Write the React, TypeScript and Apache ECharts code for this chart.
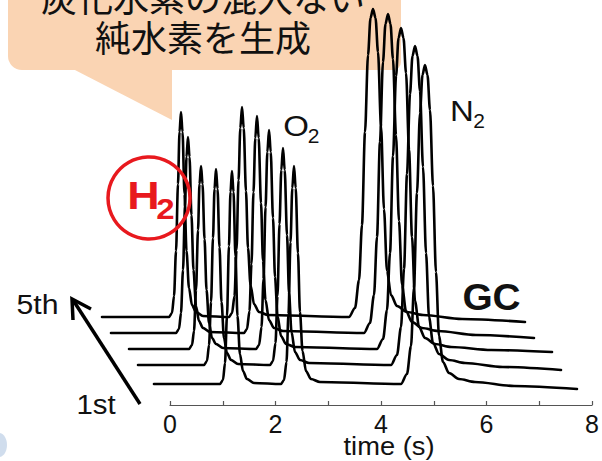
import React, { useEffect, useRef } from "react";
import * as echarts from "echarts";

// Five consecutive GC runs, each recorded from 0 to 8 s (time in s, detector signal in a.u.)
const RUN_NAMES = ["1st", "2nd", "3rd", "4th", "5th"];

const run1: [number, number][] = [
  [0, 0],
  [1.248, 0], [1.305, 4], [1.343, 21], [1.381, 68], [1.418, 138], [1.447, 192], [1.475, 213], [1.504, 192], [1.541, 128], [1.579, 68], [1.626, 30], [1.683, 13], [1.759, 5], [1.891, 1],
  [2.402, 0], [2.459, 4], [2.506, 22], [2.544, 70], [2.582, 142], [2.616, 196], [2.648, 218], [2.68, 196], [2.723, 131], [2.761, 72], [2.809, 33], [2.875, 13], [2.969, 5], [3.139, 2],
  [4.671, 0], [4.785, 10], [4.861, 38], [4.917, 96], [4.974, 191], [5.031, 271], [5.078, 309], [5.125, 319], [5.173, 309], [5.22, 274], [5.277, 198], [5.333, 112], [5.39, 48], [5.466, 22], [5.579, 11], [5.768, 5], [6.071, 2],
  [6.81, -2], [8.0, -5],
];

const run2: [number, number][] = [
  [0, 0],
  [1.248, 0], [1.305, 4], [1.343, 20], [1.381, 63], [1.418, 127], [1.447, 176], [1.475, 196], [1.504, 176], [1.541, 118], [1.579, 63], [1.626, 27], [1.683, 12], [1.759, 5], [1.891, 1],
  [2.496, 0], [2.553, 4], [2.6, 22], [2.638, 69], [2.676, 141], [2.71, 195], [2.742, 217], [2.774, 195], [2.818, 130], [2.856, 72], [2.903, 33], [2.969, 13], [3.064, 5], [3.234, 2],
  [4.785, 0], [4.898, 10], [4.974, 38], [5.031, 96], [5.087, 191], [5.144, 271], [5.191, 309], [5.239, 319], [5.286, 309], [5.333, 274], [5.39, 198], [5.447, 112], [5.504, 48], [5.579, 22], [5.693, 11], [5.882, 5], [6.184, 2],
  [6.9, -2], [8.0, -5],
];

const run3: [number, number][] = [
  [0, 0],
  [1.135, 0], [1.191, 4], [1.229, 18], [1.267, 59], [1.305, 119], [1.333, 165], [1.362, 183], [1.39, 165], [1.428, 110], [1.466, 59], [1.513, 26], [1.57, 11], [1.645, 5], [1.778, 1],
  [2.402, 0], [2.459, 4], [2.506, 22], [2.544, 70], [2.582, 142], [2.616, 197], [2.648, 219], [2.68, 197], [2.723, 131], [2.761, 72], [2.809, 33], [2.875, 13], [2.969, 5], [3.139, 2],
  [4.69, 0], [4.804, 10], [4.879, 39], [4.936, 96], [4.993, 193], [5.05, 273], [5.097, 311], [5.144, 321], [5.191, 311], [5.239, 276], [5.296, 199], [5.352, 112], [5.409, 48], [5.485, 22], [5.598, 11], [5.787, 5], [6.09, 2],
  [6.85, -1], [8.0, -3],
];

const run4: [number, number][] = [
  [0, 0],
  [1.229, 0], [1.286, 4], [1.324, 20], [1.362, 63], [1.4, 127], [1.428, 176], [1.456, 196], [1.485, 176], [1.522, 118], [1.56, 63], [1.608, 27], [1.664, 12], [1.74, 5], [1.872, 1],
  [2.515, 0], [2.572, 4], [2.619, 22], [2.657, 69], [2.695, 141], [2.729, 195], [2.761, 217], [2.793, 195], [2.837, 130], [2.875, 72], [2.922, 33], [2.988, 13], [3.083, 5], [3.253, 2],
  [4.785, 0], [4.898, 10], [4.974, 38], [5.031, 96], [5.087, 191], [5.144, 271], [5.191, 309], [5.239, 319], [5.286, 309], [5.333, 274], [5.39, 198], [5.447, 112], [5.504, 48], [5.579, 22], [5.693, 11], [5.882, 5], [6.184, 2],
  [6.9, -2], [8.0, -5],
];

const run5: [number, number][] = [
  [0, 0],
  [1.267, 0], [1.324, 4], [1.362, 21], [1.4, 66], [1.437, 133], [1.466, 185], [1.494, 205], [1.523, 185], [1.56, 123], [1.598, 66], [1.645, 29], [1.702, 12], [1.778, 5], [1.91, 1],
  [2.402, 0], [2.459, 4], [2.506, 21], [2.544, 67], [2.582, 137], [2.616, 189], [2.648, 210], [2.68, 189], [2.723, 126], [2.761, 69], [2.809, 32], [2.875, 13], [2.969, 5], [3.139, 2],
  [4.671, 0], [4.785, 9], [4.861, 37], [4.917, 92], [4.974, 185], [5.031, 262], [5.078, 299], [5.125, 308], [5.173, 299], [5.22, 265], [5.277, 191], [5.333, 108], [5.39, 46], [5.466, 22], [5.579, 11], [5.768, 5], [6.071, 2],
  [6.81, -2], [8.0, -5],
];

const RUNS = [run1, run2, run3, run4, run5];

// Waterfall stacking: each later run is drawn further left (s) and higher (a.u.)
const SHIFT_TIME = [-0.303, -0.605, -0.775, -1.116, -1.286];
const SHIFT_SIGNAL = [21, 40, 56, 72, 88];

const TIME_TICKS = [0, 2, 4, 6, 8];

// Plot geometry: the time axis runs 0..8 s; traces may start before 0 s
const AXIS_LEFT = 170;
const AXIS_RIGHT = 9;
const PX_PER_S = (602 - AXIS_LEFT - AXIS_RIGHT) / 8;
const TRACE_MIN_T = -2;

const RED = "#E8191E";
const PEACH = "#FAD4B3";
const SANS = '"Liberation Sans", Arial, sans-serif';

export default function App() {
  const ref = useRef<HTMLDivElement>(null);

  useEffect(() => {
    if (!ref.current) return;
    const chart = echarts.init(ref.current, undefined, { renderer: "svg" });

    const series = RUNS.map((run, i) => ({
      name: RUN_NAMES[i],
      type: "line",
      xAxisIndex: 0,
      yAxisIndex: 0,
      data: run.map(([t, v]) => [t + SHIFT_TIME[i], v + SHIFT_SIGNAL[i]]),
      showSymbol: false,
      symbol: "none",
      smooth: 0.3,
      smoothMonotone: "x",
      clip: false,
      z: 3,
      lineStyle: { color: "#000", width: 2.6, cap: "round", join: "round" },
    }));

    const option = {
      animation: false,
      grid: [
        // trace area, extended to the left so shifted runs are not clipped
        {
          left: AXIS_LEFT + TRACE_MIN_T * PX_PER_S,
          right: AXIS_RIGHT,
          top: 5,
          bottom: 56,
          containLabel: false,
        },
        // visible time axis
        { left: AXIS_LEFT, right: AXIS_RIGHT, top: 5, bottom: 56, containLabel: false },
      ],
      xAxis: [
        { type: "value", gridIndex: 0, min: TRACE_MIN_T, max: 8, show: false },
        {
          type: "value",
          gridIndex: 1,
          min: 0,
          max: 8,
          interval: 1,
          axisLine: { lineStyle: { color: "#555", width: 1.2 } },
          axisTick: { inside: true, length: 4, lineStyle: { color: "#555", width: 1.2 } },
          splitLine: { show: false },
          axisLabel: {
            formatter: (v: number) => (TIME_TICKS.includes(v) ? String(v) : ""),
            fontSize: 25,
            color: "#111",
            fontFamily: SANS,
            margin: 6,
          },
        },
      ],
      yAxis: [
        { type: "value", gridIndex: 0, min: 0, max: 400, show: false },
        { type: "value", gridIndex: 1, min: 0, max: 400, show: false },
      ],
      series,
      graphic: [
        // callout bubble
        {
          type: "rect",
          z: 1,
          shape: { x: 8, y: -30, width: 393, height: 100, r: [0, 0, 8, 14] },
          style: { fill: PEACH },
        },
        {
          type: "polygon",
          z: 1,
          shape: { points: [[73, 69], [172, 69], [172, 120]] },
          style: { fill: PEACH },
        },
        {
          type: "text",
          z: 2,
          x: 203,
          y: -4,
          style: {
            text: "炭化水素の混入ない",
            x: 0, y: 0, align: "center", verticalAlign: "middle",
            font: '36px "Noto Sans CJK JP"', lineHeight: 36, fill: "#111",
          },
        },
        {
          type: "text",
          z: 2,
          x: 203,
          y: 36,
          style: {
            text: "純水素を生成",
            x: 0, y: 0, align: "center", verticalAlign: "middle",
            font: '36px "Noto Sans CJK JP"', lineHeight: 36, fill: "#111",
          },
        },
        // H2 marker
        {
          type: "circle",
          z: 10,
          shape: { cx: 149, cy: 198, r: 41 },
          style: { fill: "none", stroke: RED, lineWidth: 3.5 },
        },
        {
          type: "text", z: 10, x: 143.5, y: 196, scaleX: 1.15,
          style: { text: "H", x: 0, y: 0, align: "center", verticalAlign: "middle", font: `bold 39px ${SANS}`, fill: RED },
        },
        {
          type: "text", z: 10, x: 165.5, y: 209, scaleX: 1.1,
          style: { text: "2", x: 0, y: 0, align: "center", verticalAlign: "middle", font: `bold 30px ${SANS}`, fill: RED },
        },
        // peak labels
        {
          type: "text", z: 10, x: 296, y: 126, scaleX: 1.1,
          style: { text: "O", x: 0, y: 0, align: "center", verticalAlign: "middle", font: `30px ${SANS}`, fill: "#111" },
        },
        {
          type: "text", z: 10, x: 313.5, y: 135.5,
          style: { text: "2", x: 0, y: 0, align: "center", verticalAlign: "middle", font: `21px ${SANS}`, fill: "#111" },
        },
        {
          type: "text", z: 10, x: 462, y: 111, scaleX: 1.1,
          style: { text: "N", x: 0, y: 0, align: "center", verticalAlign: "middle", font: `30px ${SANS}`, fill: "#111" },
        },
        {
          type: "text", z: 10, x: 479, y: 120,
          style: { text: "2", x: 0, y: 0, align: "center", verticalAlign: "middle", font: `21px ${SANS}`, fill: "#111" },
        },
        {
          type: "text", z: 10, x: 491.5, y: 297, scaleX: 1.05,
          style: { text: "GC", x: 0, y: 0, align: "center", verticalAlign: "middle", font: `bold 37px ${SANS}`, fill: "#111" },
        },
        // run order arrow
        {
          type: "text", z: 10, x: 37.5, y: 305, scaleX: 1.12,
          style: { text: "5th", x: 0, y: 0, align: "center", verticalAlign: "middle", font: `27px ${SANS}`, fill: "#111" },
        },
        {
          type: "text", z: 10, x: 96, y: 404, scaleX: 1.05,
          style: { text: "1st", x: 0, y: 0, align: "center", verticalAlign: "middle", font: `28px ${SANS}`, fill: "#111" },
        },
        {
          type: "line", z: 10,
          shape: { x1: 140, y1: 404, x2: 73, y2: 300 },
          style: { stroke: "#000", lineWidth: 3.5 },
        },
        {
          type: "polyline", z: 10,
          shape: { points: [[73, 320], [72, 299], [91, 309]] },
          style: { stroke: "#000", lineWidth: 3.5, fill: "none", lineJoin: "miter" },
        },
        // axis title
        {
          type: "text", z: 10, x: 389, y: 446, scaleX: 1.05,
          style: { text: "time (s)", x: 0, y: 0, align: "center", verticalAlign: "middle", font: `26px ${SANS}`, fill: "#111" },
        },
        // faint logo edge in the corner
        {
          type: "ellipse", z: 0,
          shape: { cx: -1, cy: 445, rx: 8, ry: 12 },
          style: { fill: "rgba(150,180,215,0.45)" },
        },
      ],
    };

    chart.setOption(option as any);
    return () => chart.dispose();
  }, []);

  return (
    <div
      ref={ref}
      style={{ position: "absolute", left: 0, top: 0, width: 602, height: 461 }}
    />
  );
}
